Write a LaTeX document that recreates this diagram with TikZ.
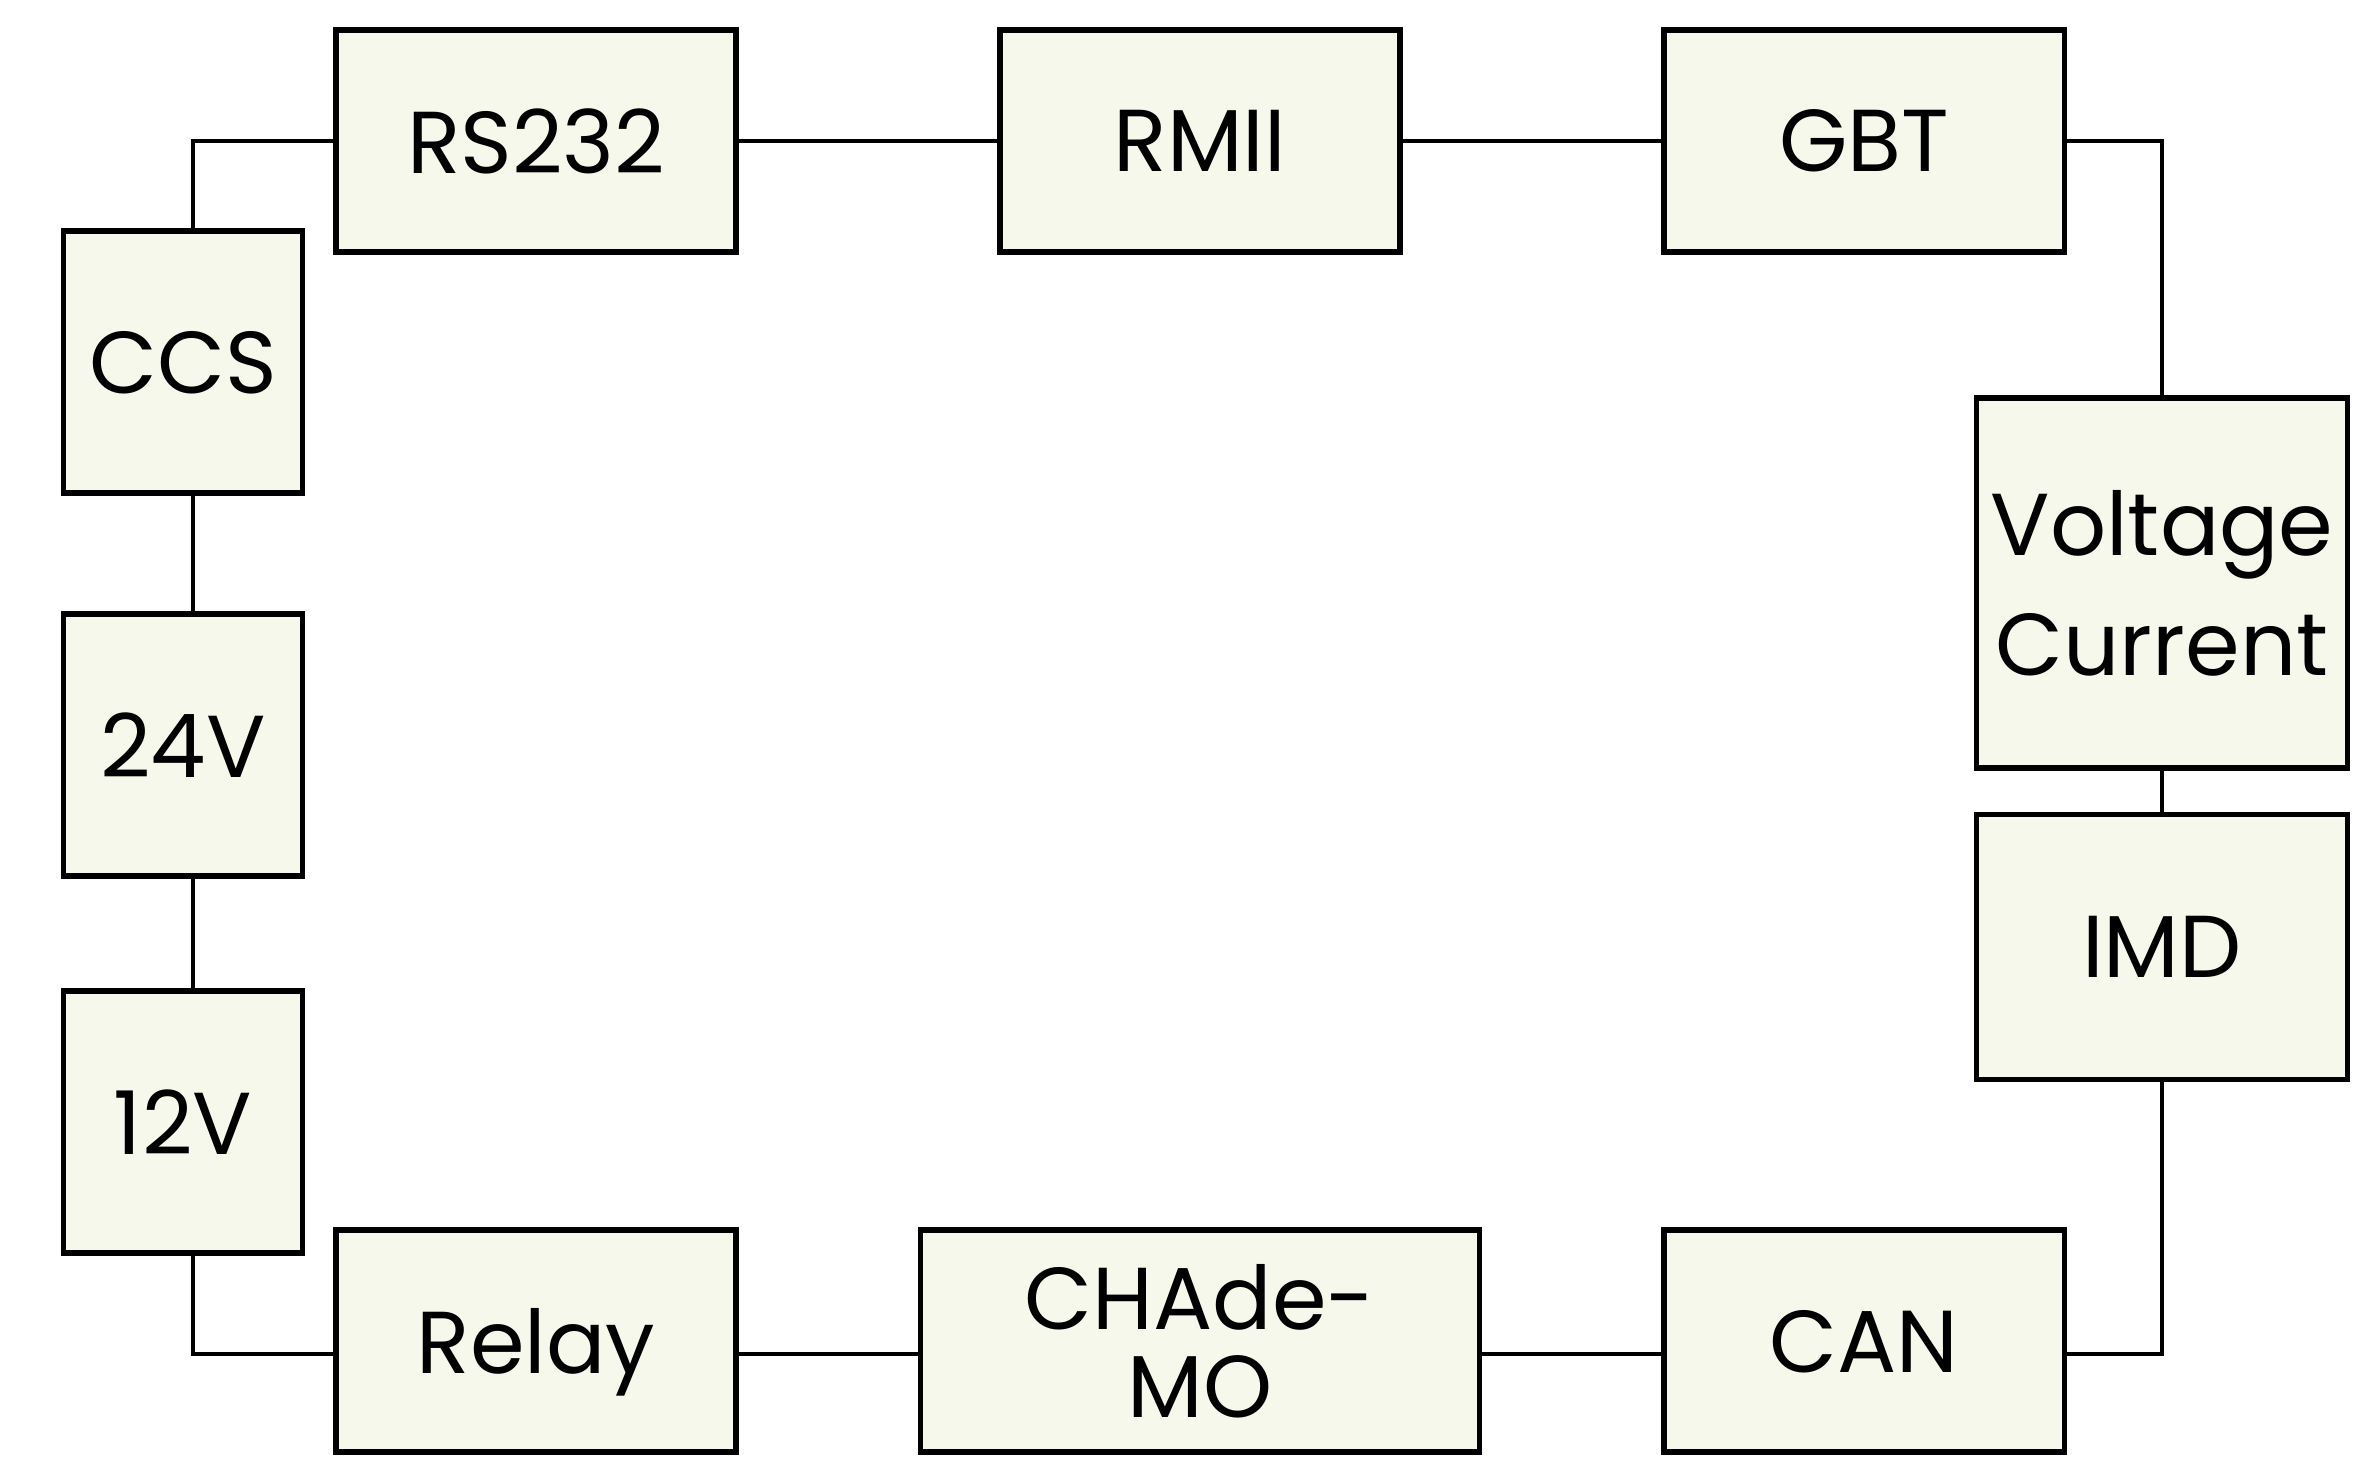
\documentclass[tikz,border=0pt]{standalone}
\usepackage{fontspec}
\setmainfont{Poppins}
\usetikzlibrary{positioning, calc}
\definecolor{boxfill}{HTML}{F6F8EC}

\begin{document}
\begin{tikzpicture}[
    x=0.01cm, y=-0.01cm,
    font=\fontsize{25}{34}\selectfont,
    % Module boxes
    module/.style={
        draw=black, line width=1.5pt,
        rectangle, fill=boxfill,
        minimum width=4cm, minimum height=2.22cm,
        align=center, inner sep=0pt, text depth=0pt
    },
    % Narrow boxes on the left side
    sidebox/.style={module, minimum width=2.39cm, minimum height=2.62cm},
    % Wide boxes on the right side
    rightbox/.style={module, minimum width=3.71cm},
    % Connector style
    wire/.style={draw=black, line width=1.4pt}
]
\useasboundingbox (0,0) rectangle (2366,1470);

% Top row
\node[module] (rs232) at (536,141) {RS232};
\node[module] (rmii) at (1200,141) {RMII};
\node[module] (gbt) at (1864,141) {GBT};

% Left column
\node[sidebox] (ccs) at (183,362) {CCS};
\node[sidebox] (v24) at (183,745) {24V};
\node[sidebox] (v12) at (183,1122) {12V};

% Right column
\node[rightbox, minimum height=3.70cm] (vc) at (2162,583) {Voltage\\Current};
\node[rightbox, minimum height=2.65cm] (imd) at (2162,947) {IMD};

% Bottom row
\node[module] (relay) at (536,1341) {Relay};
\node[module, minimum width=5.59cm] (chademo) at (1200,1341) {CHAde-\\[-9pt]MO};
\node[module] (can) at (1864,1341) {CAN};

% Top connectors
\draw[wire] (rs232) -- (rmii);
\draw[wire] (rmii) -- (gbt);
\draw[wire] (gbt.east) -| (vc.north);

% Left connectors
\draw[wire] (rs232.west) -| ($(ccs.north)+(10,0)$);
\draw[wire] ($(ccs.south)+(10,0)$) -- ($(v24.north)+(10,0)$);
\draw[wire] ($(v24.south)+(10,0)$) -- ($(v12.north)+(10,0)$);
\draw[wire] ($(v12.south)+(10,0)$) |- ($(relay.west)+(0,13)$);

% Bottom connectors
\draw[wire] ($(relay.east)+(0,13)$) -- ($(chademo.west)+(0,13)$);
\draw[wire] ($(chademo.east)+(0,13)$) -- ($(can.west)+(0,13)$);
\draw[wire] ($(can.east)+(0,13)$) -| (imd.south);

% Right connectors
\draw[wire] (imd) -- (vc);

\end{tikzpicture}
\end{document}
